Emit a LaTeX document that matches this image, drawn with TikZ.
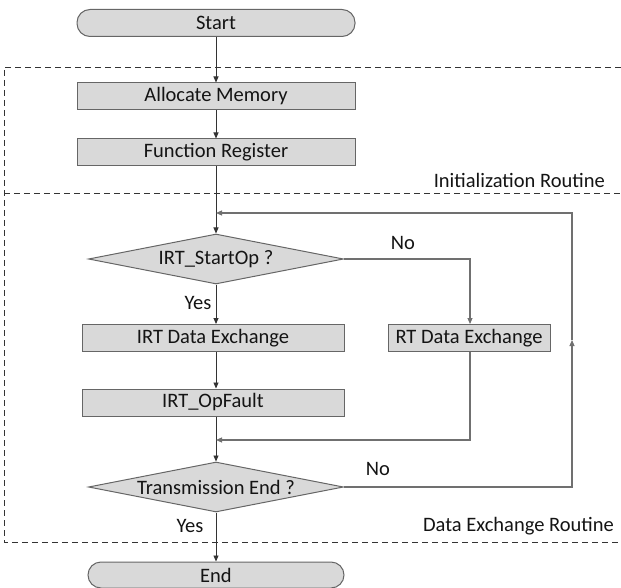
\documentclass[tikz,border=0pt]{standalone}
\usepackage{fontspec}
\setmainfont{Carlito}
\usetikzlibrary{shapes.geometric,arrows.meta}
\definecolor{boxfill}{HTML}{D9D9D9}
\definecolor{boxline}{HTML}{666666}
\definecolor{darkline}{HTML}{333333}
\definecolor{lightline}{HTML}{707070}
\definecolor{txt}{HTML}{141414}
\tikzset{
  base/.style={draw=boxline, fill=boxfill, line width=1pt, inner sep=0pt, text=txt, font=\fontsize{20.5}{22}\selectfont},
  procbox/.style={base, rectangle, minimum height=27pt},
  termbox/.style={base, rectangle, rounded corners=13pt, minimum height=27pt},
  decbox/.style={base, diamond, aspect=5.1, minimum width=255pt, minimum height=50pt},
  arr/.style={draw=darkline, line width=0.9pt, -{Triangle[length=6pt,width=5pt]}},
  garr/.style={draw=lightline, line width=1.1pt, -{Triangle[length=6pt,width=5pt]}},
  region/.style={draw=darkline, line width=0.9pt, dash pattern=on 6pt off 4pt},
  lbl/.style={text=txt, font=\fontsize{20.5}{22}\selectfont, inner sep=0pt}
}
\begin{document}
\begin{tikzpicture}[x=1pt,y=-1pt]
\useasboundingbox (0,0) rectangle (621,588);
% regions
\draw[region] (621,67) -- (4,67) -- (4,542) -- (621,542);
\draw[region] (4,193) -- (621,193);
% nodes
\node[termbox, minimum width=278pt] (start) at (216,23) {Start};
\node[procbox, minimum width=278pt] (alloc) at (216,96.5) {Allocate Memory};
\node[procbox, minimum width=278pt] (func) at (216,152.5) {Function Register};
\node[decbox] (d1) at (216,259) {IRT\_StartOp ?};
\node[procbox, minimum width=262pt] (irt) at (213,338) {IRT Data Exchange};
\node[procbox, minimum width=162pt] (rt) at (469,338) {RT Data Exchange};
\node[procbox, minimum width=262pt] (fault) at (213,402.5) {IRT\_OpFault};
\node[decbox] (d2) at (216,487) {Transmission End ?};
\node[termbox, minimum width=256pt, minimum height=26pt] (end) at (216,575) {End};
% labels
\node[lbl, anchor=east] (initl) at (605,180) {Initialization Routine};
\node[lbl, anchor=east] (datal) at (614,526) {Data Exchange Routine};
\node[lbl] (no1) at (403,243) {No};
\node[lbl] (no2) at (378,469) {No};
\node[lbl] (yes1) at (198,303) {Yes};
\node[lbl] (yes2) at (190,526) {Yes};
% helper coordinates
\coordinate (c1) at (470,259);
\coordinate (c2) at (470,440);
\coordinate (c3) at (216,440);
\coordinate (c4) at (572,487);
\coordinate (c5) at (572,340);
\coordinate (c6) at (572,213);
\coordinate (c7) at (216,213);
% connectors
\draw[arr] (start.south) -- (alloc.north);
\draw[arr] (alloc.south) -- (func.north);
\draw[arr] (func.south) -- (d1.north);
\draw[arr] (d1.south) -- (d1.south |- irt.north);
\draw[arr] (irt.south -| d1.south) -- (fault.north -| d1.south);
\draw[arr] (fault.south -| d1.south) -- (d2.north);
\draw[arr] (d2.south) -- (end.north);
\draw[garr] (d1.east) -- (c1) -- (c1 |- rt.north);
\draw[garr] (c1 |- rt.south) -- (c2) -- (c3);
\draw[garr] (d2.east) -- (c4) -- (c5);
\draw[garr] (c5) -- (c6) -- (c7);
\end{tikzpicture}
\end{document}
